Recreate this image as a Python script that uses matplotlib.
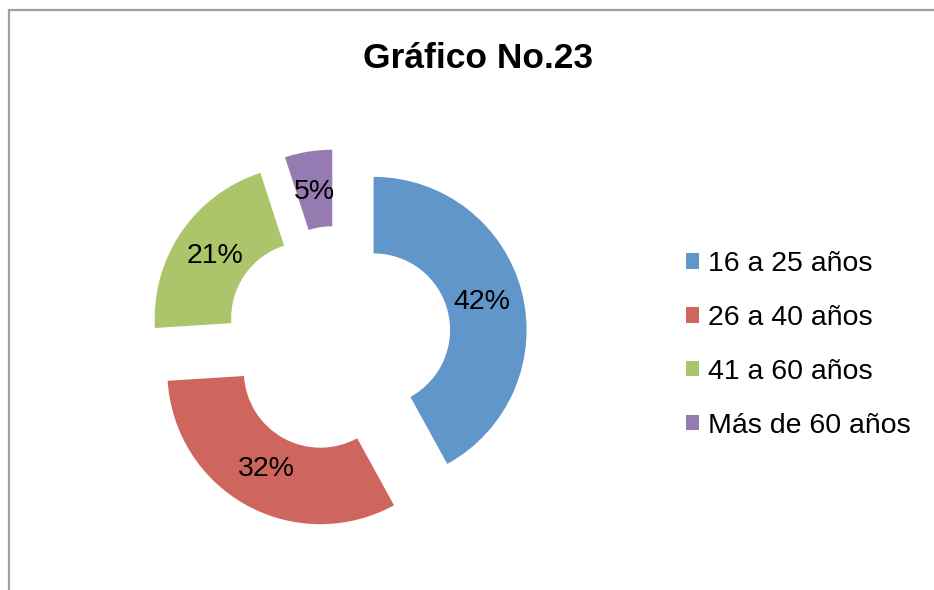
import matplotlib
matplotlib.use("Agg")
import matplotlib.pyplot as plt
from matplotlib.patches import Rectangle, Patch

# data
categories = ['16 a 25 años', '26 a 40 años', '41 a 60 años', 'Más de 60 años']
values = [42, 32, 21, 5]
colors = ['#6096c9', '#cf665e', '#acc56b', '#957bb1']
title = 'Gráfico No.23'

plt.rcParams['font.family'] = ['Liberation Sans', 'DejaVu Sans']

fig = plt.figure(figsize=(9.34, 5.90), dpi=100)

# grey frame, cut by the right and bottom edge like in the picture
fig.patches.append(Rectangle((9 / 934, -0.05), 1.1, (590 - 10) / 590 + 0.05,
                             transform=fig.transFigure, fill=False,
                             edgecolor='#a0a0a0', lw=1.6))

# pie axes: center ~(338, 339) px, radius ~153 px
ax = fig.add_axes([0.1162, 0.0364, 0.4914, 0.778])
wedges, texts = ax.pie(values, colors=colors, startangle=90, counterclock=False,
                       radius=1, explode=[0.24] * len(values),
                       wedgeprops=dict(width=0.5, linewidth=0),
                       labels=[f'{v}%' for v in values], labeldistance=0.73,
                       textprops=dict(fontsize=20.5, color='black',
                                      ha='center', va='center'))
ax.set_xlim(-1.5, 1.5)
ax.set_ylim(-1.5, 1.5)
ax.set_aspect('equal')
ax.axis('off')

fig.text(478 / 934, 1 - 59 / 590, title, ha='center', va='center',
         fontsize=25.5, fontweight='bold')

handles = [Patch(facecolor=c, edgecolor='none') for c in colors]
fig.legend(handles, categories, loc='center left',
           bbox_to_anchor=(672 / 934, 1 - 345 / 590), frameon=False,
           fontsize=20.5, handlelength=0.45, handleheight=0.45,
           handletextpad=0.3, labelspacing=0.98, borderpad=0)

fig.savefig('out.png', dpi=100)
